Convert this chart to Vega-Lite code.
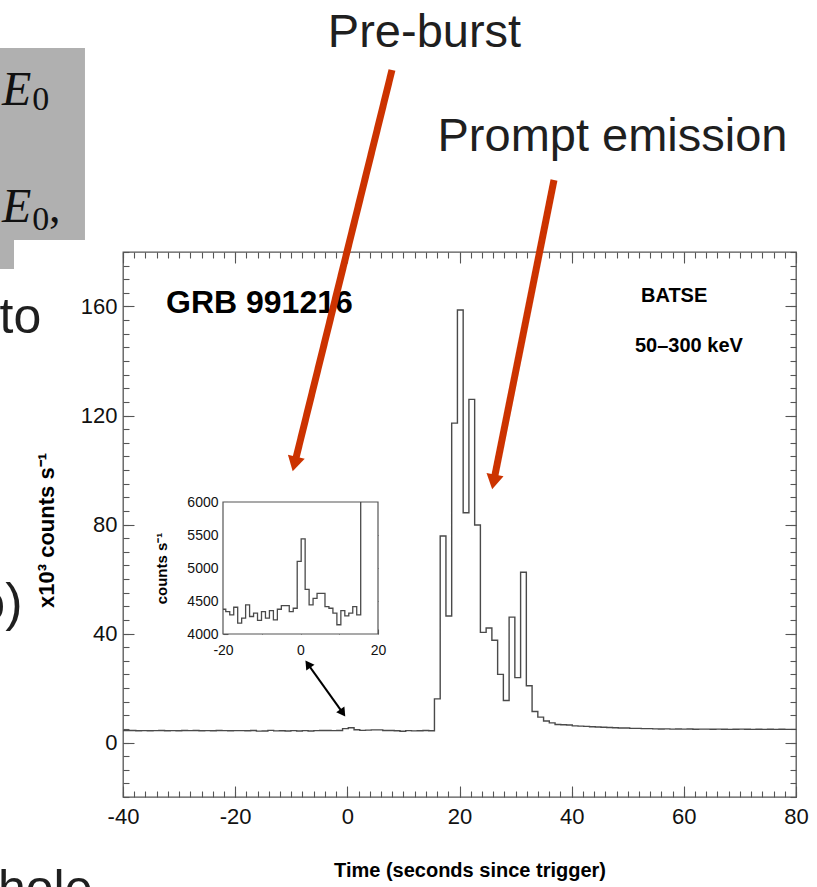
{
  "$schema": "https://vega.github.io/schema/vega-lite/v6.json",
  "width": 673,
  "height": 545,
  "autosize": {"type": "none"},
  "padding": {"left": 123, "top": 252, "right": 21, "bottom": 90},
  "background": "white",
  "datasets": {
    "lc": [
      {"t": -40.786, "rate": 4380}, {"t": -39.762, "rate": 4340}, {"t": -38.738, "rate": 4400}, {"t": -37.714, "rate": 4320},
      {"t": -36.69, "rate": 4360}, {"t": -35.666, "rate": 4300}, {"t": -34.642, "rate": 4370}, {"t": -33.618, "rate": 4410},
      {"t": -32.594, "rate": 4330}, {"t": -31.57, "rate": 4350}, {"t": -30.546, "rate": 4290}, {"t": -29.522, "rate": 4380},
      {"t": -28.498, "rate": 4340}, {"t": -27.474, "rate": 4400}, {"t": -26.45, "rate": 4310}, {"t": -25.426, "rate": 4360},
      {"t": -24.402, "rate": 4330}, {"t": -23.378, "rate": 4390}, {"t": -22.354, "rate": 4350}, {"t": -21.33, "rate": 4320},
      {"t": -20.306, "rate": 4375}, {"t": -19.282, "rate": 4340}, {"t": -18.258, "rate": 4290}, {"t": -17.234, "rate": 4405},
      {"t": -16.21, "rate": 4165}, {"t": -15.186, "rate": 4240}, {"t": -14.162, "rate": 4440}, {"t": -13.138, "rate": 4265},
      {"t": -12.114, "rate": 4315}, {"t": -11.09, "rate": 4205}, {"t": -10.066, "rate": 4340}, {"t": -9.042, "rate": 4240},
      {"t": -8.018, "rate": 4355}, {"t": -6.994, "rate": 4215}, {"t": -5.97, "rate": 4375}, {"t": -4.946, "rate": 4430},
      {"t": -3.922, "rate": 4430}, {"t": -2.898, "rate": 4340}, {"t": -1.874, "rate": 4390}, {"t": -0.85, "rate": 5100},
      {"t": 0.174, "rate": 5440}, {"t": 1.198, "rate": 4675}, {"t": 2.222, "rate": 4440}, {"t": 3.246, "rate": 4540},
      {"t": 4.27, "rate": 4615}, {"t": 5.294, "rate": 4615}, {"t": 6.318, "rate": 4415}, {"t": 7.342, "rate": 4390},
      {"t": 8.366, "rate": 4315}, {"t": 9.39, "rate": 4140}, {"t": 10.414, "rate": 4355}, {"t": 11.438, "rate": 4275},
      {"t": 12.462, "rate": 4315}, {"t": 13.486, "rate": 4415}, {"t": 14.51, "rate": 4290}, {"t": 15.534, "rate": 16000},
      {"t": 16.558, "rate": 75800}, {"t": 17.582, "rate": 46400}, {"t": 18.606, "rate": 117200}, {"t": 19.63, "rate": 158700},
      {"t": 20.654, "rate": 84300}, {"t": 21.678, "rate": 125900}, {"t": 22.702, "rate": 79800}, {"t": 23.726, "rate": 40400},
      {"t": 24.75, "rate": 42000}, {"t": 25.774, "rate": 37500}, {"t": 26.798, "rate": 25000}, {"t": 27.822, "rate": 15400},
      {"t": 28.846, "rate": 46000}, {"t": 29.87, "rate": 23800}, {"t": 30.894, "rate": 62500}, {"t": 31.918, "rate": 20800},
      {"t": 32.942, "rate": 11400}, {"t": 33.966, "rate": 9300}, {"t": 34.99, "rate": 7900}, {"t": 36.014, "rate": 7200},
      {"t": 37.038, "rate": 6600}, {"t": 38.062, "rate": 6500}, {"t": 39.086, "rate": 6400}, {"t": 40.11, "rate": 6100},
      {"t": 41.134, "rate": 6000}, {"t": 42.158, "rate": 5900}, {"t": 43.182, "rate": 5800}, {"t": 44.206, "rate": 5700},
      {"t": 45.23, "rate": 5600}, {"t": 46.254, "rate": 5500}, {"t": 47.278, "rate": 5400}, {"t": 48.302, "rate": 5300},
      {"t": 49.326, "rate": 5300}, {"t": 50.35, "rate": 5200}, {"t": 51.374, "rate": 5200}, {"t": 52.398, "rate": 5100},
      {"t": 53.422, "rate": 5100}, {"t": 54.446, "rate": 5000}, {"t": 55.47, "rate": 4950}, {"t": 56.494, "rate": 5000},
      {"t": 57.518, "rate": 4900}, {"t": 58.542, "rate": 4950}, {"t": 59.566, "rate": 4900}, {"t": 60.59, "rate": 4950},
      {"t": 61.614, "rate": 4850}, {"t": 62.638, "rate": 4900}, {"t": 63.662, "rate": 4900}, {"t": 64.686, "rate": 4850},
      {"t": 65.71, "rate": 4900}, {"t": 66.734, "rate": 4850}, {"t": 67.758, "rate": 4800}, {"t": 68.782, "rate": 4850},
      {"t": 69.806, "rate": 4900}, {"t": 70.83, "rate": 4850}, {"t": 71.854, "rate": 4800}, {"t": 72.878, "rate": 4850},
      {"t": 73.902, "rate": 4800}, {"t": 74.926, "rate": 4850}, {"t": 75.95, "rate": 4800}, {"t": 76.974, "rate": 4850},
      {"t": 77.998, "rate": 4800}, {"t": 79.022, "rate": 4800}, {"t": 80.046, "rate": 4800}
    ]
  },
  "resolve": {"scale": {"x": "independent", "y": "independent"}},
  "layer": [
    {
      "resolve": {"axis": {"x": "independent", "y": "independent"}},
      "layer": [
        {
          "data": {"values": [
            {"t": -63, "t2": -46.78, "c": 254862, "c2": 184404},
            {"t": -63, "t2": -59.44, "c": 184404, "c2": 173762}
          ]},
          "mark": {"type": "rect", "color": "#b0b0b0"},
          "encoding": {
            "x": {"field": "t", "type": "quantitative", "axis": null},
            "x2": {"field": "t2"},
            "y": {"field": "c", "type": "quantitative", "axis": null},
            "y2": {"field": "c2"}
          }
        },
        {
          "data": {"name": "lc"},
          "mark": {"type": "line", "interpolate": "step-after", "clip": true, "color": "#4a4a4a", "strokeWidth": 1.4},
          "encoding": {
            "x": {
              "field": "t", "type": "quantitative",
              "scale": {"domain": [-40, 80], "nice": false, "zero": false},
              "axis": {
                "orient": "bottom", "offset": -11, "tickSize": 11,
                "values": [-40, -20, 0, 20, 40, 60, 80],
                "labelExpr": "toString(datum.value)",
                "labelPadding": 9, "labelFontSize": 22, "labelFlush": false, "labelOverlap": false,
                "title": "Time (seconds since trigger)", "titleFontSize": 20, "titleFontWeight": "bold",
                "titleX": 346.5, "titleY": 90, "titleBaseline": "alphabetic", "titleAlign": "center", "titleAnchor": null
              }
            },
            "y": {
              "field": "rate", "type": "quantitative",
              "scale": {"domain": [-20000, 180000], "nice": false, "zero": false},
              "axis": {
                "orient": "left", "offset": -11, "tickSize": 11,
                "values": [0, 40000, 80000, 120000, 160000],
                "labelExpr": "toString(datum.value / 1000)",
                "labelPadding": 6, "labelFontSize": 22, "labelFlush": false, "labelOverlap": false,
                "title": "x10³ counts s⁻¹", "titleFontSize": 22, "titleFontWeight": "bold",
                "titleAngle": -90, "titleX": -81, "titleY": 278, "titleBaseline": "alphabetic", "titleAlign": "center", "titleAnchor": null
              }
            }
          }
        },
        {
          "data": {"values": [{"t": -32.33, "c": 157615, "label": "GRB 991216"}]},
          "mark": {"type": "text", "align": "left", "baseline": "alphabetic", "font": "Liberation Sans", "fontWeight": "bold", "fontSize": 32, "color": "#000"},
          "encoding": {
            "x": {
              "field": "t", "type": "quantitative",
              "axis": {"orient": "top", "offset": -11, "tickSize": 11, "values": [-40, -20, 0, 20, 40, 60, 80], "labels": false, "title": null}
            },
            "y": {
              "field": "c", "type": "quantitative",
              "axis": {"orient": "right", "offset": -11, "tickSize": 11, "values": [0, 40000, 80000, 120000, 160000], "labels": false, "title": null}
            },
            "text": {"field": "label"}
          }
        },
        {
          "data": {"values": [
            {"t": 52.36, "c": 161651, "label": "BATSE"},
            {"t": 51.29, "c": 143303, "label": "50–300 keV"}
          ]},
          "mark": {"type": "text", "align": "left", "baseline": "alphabetic", "font": "Liberation Sans", "fontWeight": "bold", "fontSize": 20, "color": "#000"},
          "encoding": {
            "x": {
              "field": "t", "type": "quantitative",
              "axis": {"orient": "bottom", "offset": -6, "tickSize": 6, "tickCount": 60, "labels": false, "title": null}
            },
            "y": {
              "field": "c", "type": "quantitative",
              "axis": {"orient": "left", "offset": -6, "tickSize": 6, "tickCount": 40, "labels": false, "title": null}
            },
            "text": {"field": "label"}
          }
        },
        {
          "data": {"values": [
            {"t": -61.57, "c": 233944, "label": "E"},
            {"t": -61.57, "c": 191009, "label": "E"}
          ]},
          "mark": {"type": "text", "align": "left", "baseline": "alphabetic", "font": "Liberation Serif", "fontStyle": "italic", "fontSize": 48, "color": "#111"},
          "encoding": {
            "x": {
              "field": "t", "type": "quantitative",
              "axis": {"orient": "top", "offset": -6, "tickSize": 6, "tickCount": 60, "labels": false, "title": null}
            },
            "y": {
              "field": "c", "type": "quantitative",
              "axis": {"orient": "right", "offset": -6, "tickSize": 6, "tickCount": 40, "labels": false, "title": null}
            },
            "text": {"field": "label"}
          }
        },
        {
          "data": {"values": [
            {"t": -56.2, "c": 232110, "label": "0"},
            {"t": -56.2, "c": 188073, "label": "0"}
          ]},
          "mark": {"type": "text", "align": "left", "baseline": "alphabetic", "font": "Liberation Serif", "fontSize": 34, "color": "#111"},
          "encoding": {
            "x": {"field": "t", "type": "quantitative", "axis": null},
            "y": {"field": "c", "type": "quantitative", "axis": null},
            "text": {"field": "label"}
          }
        },
        {
          "data": {"values": [{"t": -53.2, "c": 191009, "label": ","}]},
          "mark": {"type": "text", "align": "left", "baseline": "alphabetic", "font": "Liberation Serif", "fontSize": 46, "color": "#111"},
          "encoding": {
            "x": {"field": "t", "type": "quantitative", "axis": null},
            "y": {"field": "c", "type": "quantitative", "axis": null},
            "text": {"field": "label"}
          }
        },
        {
          "data": {"values": [
            {"t": 13.76, "c": 255400, "label": "Pre-burst"},
            {"t": 47.28, "c": 217100, "label": "Prompt emission"}
          ]},
          "mark": {"type": "text", "align": "center", "baseline": "alphabetic", "font": "Liberation Sans", "fontSize": 47, "color": "#1f1f1f"},
          "encoding": {
            "x": {"field": "t", "type": "quantitative", "axis": null},
            "y": {"field": "c", "type": "quantitative", "axis": null},
            "text": {"field": "label"}
          }
        },
        {
          "data": {"values": [
            {"t": -62.0, "c": 150300, "label": "to"},
            {"t": -62.29, "c": -59600, "label": "hole"}
          ]},
          "mark": {"type": "text", "align": "left", "baseline": "alphabetic", "font": "Liberation Sans", "fontSize": 50, "color": "#1f1f1f"},
          "encoding": {
            "x": {"field": "t", "type": "quantitative", "axis": null},
            "y": {"field": "c", "type": "quantitative", "axis": null},
            "text": {"field": "label"}
          }
        },
        {
          "data": {"values": [{"t": -57.9, "c": 45000, "label": "o)"}]},
          "mark": {"type": "text", "align": "right", "baseline": "alphabetic", "font": "Liberation Sans", "fontSize": 52, "color": "#1f1f1f"},
          "encoding": {
            "x": {"field": "t", "type": "quantitative", "axis": null},
            "y": {"field": "c", "type": "quantitative", "axis": null},
            "text": {"field": "label"}
          }
        },
        {
          "data": {"values": [
            {"t": 7.96, "c": 246789, "t2": -9.42, "c2": 102202},
            {"t": 36.85, "c": 206422, "t2": 26.08, "c2": 95597}
          ]},
          "mark": {"type": "rule", "color": "#cc3300", "strokeWidth": 7, "strokeCap": "butt"},
          "encoding": {
            "x": {"field": "t", "type": "quantitative", "axis": null},
            "y": {"field": "c", "type": "quantitative", "axis": null},
            "x2": {"field": "t2"},
            "y2": {"field": "c2"}
          }
        },
        {
          "data": {"values": [{"t": -9.42, "c": 102202}]},
          "mark": {"type": "point", "shape": "triangle-down", "filled": true, "color": "#cc3300", "opacity": 1, "size": 300, "angle": 14},
          "encoding": {
            "x": {"field": "t", "type": "quantitative", "axis": null},
            "y": {"field": "c", "type": "quantitative", "axis": null}
          }
        },
        {
          "data": {"values": [{"t": 26.08, "c": 95597}]},
          "mark": {"type": "point", "shape": "triangle-down", "filled": true, "color": "#cc3300", "opacity": 1, "size": 300, "angle": 11},
          "encoding": {
            "x": {"field": "t", "type": "quantitative", "axis": null},
            "y": {"field": "c", "type": "quantitative", "axis": null}
          }
        },
        {
          "data": {"values": [{"t": -7.03, "c": 28770, "t2": -0.81, "c2": 10864}]},
          "mark": {"type": "rule", "color": "#000", "strokeWidth": 2},
          "encoding": {
            "x": {"field": "t", "type": "quantitative", "axis": null},
            "y": {"field": "c", "type": "quantitative", "axis": null},
            "x2": {"field": "t2"},
            "y2": {"field": "c2"}
          }
        },
        {
          "data": {"values": [{"t": -0.81, "c": 10864}]},
          "mark": {"type": "point", "shape": "triangle-down", "filled": true, "color": "#000", "opacity": 1, "size": 100, "angle": -35},
          "encoding": {
            "x": {"field": "t", "type": "quantitative", "axis": null},
            "y": {"field": "c", "type": "quantitative", "axis": null}
          }
        },
        {
          "data": {"values": [{"t": -7.03, "c": 28770}]},
          "mark": {"type": "point", "shape": "triangle-up", "filled": true, "color": "#000", "opacity": 1, "size": 100, "angle": -35},
          "encoding": {
            "x": {"field": "t", "type": "quantitative", "axis": null},
            "y": {"field": "c", "type": "quantitative", "axis": null}
          }
        }
      ]
    },
    {
      "resolve": {"axis": {"x": "independent", "y": "independent"}},
      "layer": [
        {
          "data": {"values": [{"t0": -20, "t1": 20, "r0": 4000, "r1": 6000}]},
          "mark": {"type": "rect", "fill": "white", "stroke": "#555", "strokeWidth": 1.2},
          "encoding": {
            "x": {
              "field": "t0", "type": "quantitative",
              "axis": {"orient": "top", "offset": -255, "tickSize": 5, "values": [-10, 0, 10], "labels": false, "title": null}
            },
            "x2": {"field": "t1"},
            "y": {
              "field": "r0", "type": "quantitative",
              "axis": {"orient": "right", "offset": -423, "tickSize": 5, "values": [4500, 5000, 5500], "labels": false, "title": null}
            },
            "y2": {"field": "r1"}
          }
        },
        {
          "data": {"name": "lc"},
          "transform": [{"filter": "datum.t >= -20.5 && datum.t <= 16"}],
          "mark": {"type": "line", "interpolate": "step-after", "color": "#4a4a4a", "strokeWidth": 1.3},
          "encoding": {
            "x": {
              "field": "t", "type": "quantitative",
              "scale": {"domain": [-20, 20], "range": [100, 255], "nice": false, "zero": false, "clamp": true},
              "axis": {
                "orient": "bottom", "offset": -168, "tickSize": 5, "values": [-20, -10, 0, 10, 20],
                "labelExpr": "datum.value % 20 === 0 ? toString(datum.value) : ''",
                "labelPadding": 9, "labelFontSize": 14, "labelFlush": false, "labelOverlap": false,
                "title": null
              }
            },
            "y": {
              "field": "rate", "type": "quantitative",
              "scale": {"domain": [4000, 6000], "range": [382, 250], "nice": false, "zero": false, "clamp": true},
              "axis": {
                "orient": "left", "offset": -105, "tickSize": 5, "values": [4000, 4500, 5000, 5500, 6000],
                "labelExpr": "toString(datum.value)",
                "labelPadding": 5, "labelFontSize": 14, "labelFlush": false, "labelOverlap": false,
                "title": "counts s⁻¹", "titleFontSize": 15, "titleFontWeight": "bold",
                "titleAngle": -90, "titleX": -62, "titleY": 316, "titleBaseline": "alphabetic", "titleAlign": "center", "titleAnchor": null
              }
            }
          }
        }
      ]
    }
  ],
  "config": {
    "view": {"stroke": "#555", "strokeWidth": 1.3},
    "axis": {
      "domain": false, "grid": false, "zindex": 1,
      "tickColor": "#555", "tickWidth": 1.1,
      "labelFont": "Liberation Sans", "labelColor": "#111",
      "titleFont": "Liberation Sans", "titleColor": "#000"
    }
  }
}
